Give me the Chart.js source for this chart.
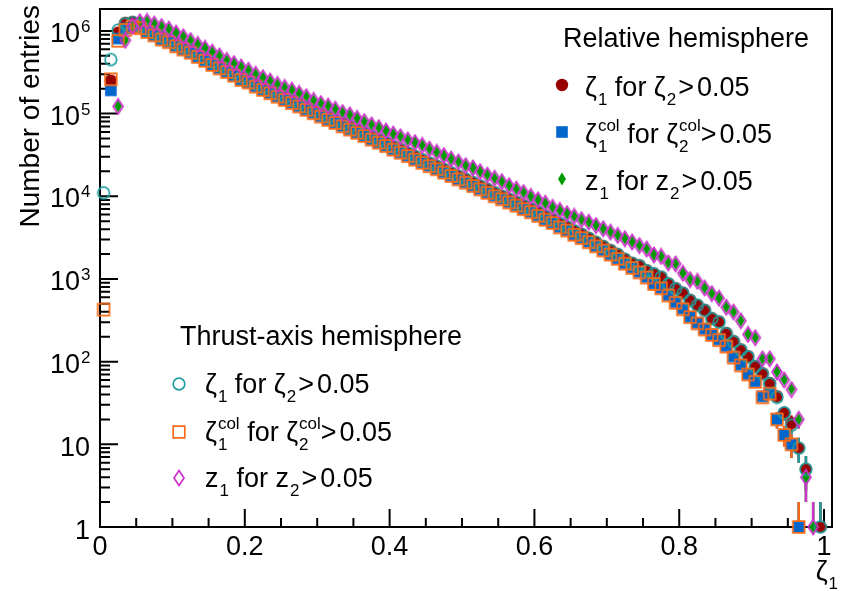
<!DOCTYPE html>
<html>
<head>
<meta charset="utf-8">
<script src="https://cdn.jsdelivr.net/npm/chart.js@4.4.1/dist/chart.umd.min.js"></script>
<style>
html, body { margin: 0; padding: 0; background: #fff; }
</style>
</head>
<body>
<canvas id="c" width="841" height="591"></canvas>
<script>
// bin centres (bin width 0.01)
const binCenters = [
  0.005, 0.015, 0.025, 0.035, 0.045, 0.055, 0.065, 0.075, 0.085, 0.095,
  0.105, 0.115, 0.125, 0.135, 0.145, 0.155, 0.165, 0.175, 0.185, 0.195,
  0.205, 0.215, 0.225, 0.235, 0.245, 0.255, 0.265, 0.275, 0.285, 0.295,
  0.305, 0.315, 0.325, 0.335, 0.345, 0.355, 0.365, 0.375, 0.385, 0.395,
  0.405, 0.415, 0.425, 0.435, 0.445, 0.455, 0.465, 0.475, 0.485, 0.495,
  0.505, 0.515, 0.525, 0.535, 0.545, 0.555, 0.565, 0.575, 0.585, 0.595,
  0.605, 0.615, 0.625, 0.635, 0.645, 0.655, 0.665, 0.675, 0.685, 0.695,
  0.705, 0.715, 0.725, 0.735, 0.745, 0.755, 0.765, 0.775, 0.785, 0.795,
  0.805, 0.815, 0.825, 0.835, 0.845, 0.855, 0.865, 0.875, 0.885, 0.895,
  0.905, 0.915, 0.925, 0.935, 0.945, 0.955, 0.965, 0.975, 0.985, 0.995
];

// Relative hemisphere
const relZeta = [
  null, 2.5e5, 9.5e5, 1.25e6, 1.28e6, 1.17e6, 1.05e6, 9.5e5, 8.5e5, 7.9e5,
  7.1e5, 6.5e5, 5.9e5, 5.3e5, 4.75e5, 4.2e5, 3.85e5, 3.45e5, 3.13e5, 2.78e5,
  2.6e5, 2.31e5, 2.1e5, 1.92e5, 1.75e5, 1.6e5, 1.46e5, 1.33e5, 1.21e5, 1.1e5,
  1.0e5, 9.2e4, 8.4e4, 7.7e4, 7.0e4, 6.4e4, 5.85e4, 5.3e4, 4.85e4, 4.45e4,
  4.0e4, 3.7e4, 3.35e4, 3.05e4, 2.78e4, 2.53e4, 2.32e4, 2.12e4, 1.93e4, 1.76e4,
  1.61e4, 1.47e4, 1.34e4, 1.22e4, 1.11e4, 1.01e4, 9250, 8500, 7750, 7100,
  6450, 5750, 5250, 4700, 4300, 3830, 3500, 3130, 2790, 2490,
  2230, 1990, 1740, 1560, 1460, 1270, 1160, 1060, 880, 770,
  680, 556, 484, 422, 335, 305, 221, 176, 140, 116,
  88, 72, 55, 38, 24, 18, 9, 5, null, 1
];
const relZetaCol = [
  null, 1.91e5, 8.1e5, 1.07e6, 1.17e6, 1.1e6, 9.8e5, 8.9e5, 7.9e5, 7.4e5,
  6.6e5, 6.0e5, 5.5e5, 4.9e5, 4.4e5, 3.9e5, 3.55e5, 3.2e5, 2.9e5, 2.57e5,
  2.4e5, 2.14e5, 1.95e5, 1.78e5, 1.62e5, 1.48e5, 1.35e5, 1.23e5, 1.12e5, 1.02e5,
  9.3e4, 8.5e4, 7.8e4, 7.1e4, 6.5e4, 5.9e4, 5.4e4, 4.9e4, 4.5e4, 4.1e4,
  3.7e4, 3.4e4, 3.1e4, 2.8e4, 2.57e4, 2.34e4, 2.14e4, 1.95e4, 1.78e4, 1.62e4,
  1.48e4, 1.35e4, 1.23e4, 1.12e4, 1.02e4, 9300, 8500, 7800, 7100, 6500,
  5900, 5250, 4800, 4270, 3900, 3470, 3160, 2820, 2510, 2240,
  2000, 1780, 1550, 1380, 1220, 1060, 880, 780, 640, 525,
  440, 350, 295, 250, 214, 186, 155, 115, 92, 71,
  58, 38, 42, 20, 13, 10, 1, null, null, null
];
const relZ = [
  null, null, 1.23e5, 7.8e5, 1.15e6, 1.3e6, 1.3e6, 1.22e6, 1.14e6, 1.06e6,
  9.5e5, 8.6e5, 7.7e5, 6.9e5, 6.2e5, 5.57e5, 5.0e5, 4.43e5, 4.04e5, 3.68e5,
  3.36e5, 3.0e5, 2.72e5, 2.48e5, 2.26e5, 2.08e5, 1.93e5, 1.76e5, 1.61e5, 1.45e5,
  1.33e5, 1.24e5, 1.14e5, 1.04e5, 9.7e4, 8.8e4, 8.05e4, 7.35e4, 6.8e4, 6.2e4,
  5.7e4, 5.3e4, 4.85e4, 4.5e4, 4.15e4, 3.75e4, 3.42e4, 3.12e4, 2.84e4, 2.62e4,
  2.36e4, 2.22e4, 2.0e4, 1.82e4, 1.66e4, 1.51e4, 1.35e4, 1.23e4, 1.12e4, 1.0e4,
  9100, 8300, 7400, 6800, 6200, 5750, 5250, 4900, 4470, 4070,
  3720, 3390, 3090, 2820, 2550, 2320, 1960, 1880, 1570, 1530,
  1180, 985, 940, 780, 670, 590, 460, 400, 314, 215,
  196, 109, 109, 76, 61, 47, 20, 4, 1, null
];

// Thrust-axis hemisphere
const thrZeta = [
  1.1e4, 4.5e5, 1.02e6, 1.22e6, 1.26e6, 1.16e6, 1.04e6, 9.4e5, 8.5e5, 7.8e5,
  7.0e5, 6.4e5, 5.85e5, 5.25e5, 4.7e5, 4.2e5, 3.8e5, 3.42e5, 3.1e5, 2.76e5,
  2.58e5, 2.3e5, 2.08e5, 1.9e5, 1.74e5, 1.59e5, 1.45e5, 1.32e5, 1.2e5, 1.09e5,
  9.9e4, 9.1e4, 8.3e4, 7.6e4, 6.95e4, 6.35e4, 5.8e4, 5.25e4, 4.8e4, 4.4e4,
  3.97e4, 3.66e4, 3.32e4, 3.02e4, 2.75e4, 2.5e4, 2.3e4, 2.1e4, 1.91e4, 1.74e4,
  1.6e4, 1.46e4, 1.33e4, 1.21e4, 1.1e4, 1.0e4, 9150, 8400, 7650, 7000,
  6400, 5700, 5200, 4650, 4250, 3800, 3450, 3100, 2760, 2460,
  2200, 1970, 1720, 1540, 1440, 1250, 1150, 1050, 870, 760,
  670, 550, 480, 415, 330, 300, 218, 174, 138, 114,
  87, 71, 54, 37, 24, 17, 9, 5, null, 1
];
const thrZetaCol = [
  426, 2.6e5, 7.6e5, 1.03e6, 1.13e6, 1.08e6, 9.7e5, 8.8e5, 7.85e5, 7.3e5,
  6.5e5, 5.95e5, 5.45e5, 4.85e5, 4.35e5, 3.87e5, 3.52e5, 3.18e5, 2.88e5, 2.55e5,
  2.38e5, 2.12e5, 1.93e5, 1.76e5, 1.6e5, 1.46e5, 1.34e5, 1.22e5, 1.11e5, 1.01e5,
  9.2e4, 8.4e4, 7.7e4, 7.0e4, 6.4e4, 5.85e4, 5.35e4, 4.85e4, 4.45e4, 4.05e4,
  3.66e4, 3.36e4, 3.06e4, 2.77e4, 2.54e4, 2.31e4, 2.12e4, 1.93e4, 1.76e4, 1.6e4,
  1.46e4, 1.33e4, 1.21e4, 1.1e4, 1.0e4, 9200, 8400, 7700, 7000, 6400,
  5800, 5200, 4750, 4200, 3850, 3420, 3120, 2780, 2480, 2210,
  1970, 1750, 1530, 1360, 1200, 1040, 870, 770, 630, 515,
  430, 345, 290, 245, 210, 182, 152, 112, 90, 70,
  57, 37, 41, 20, 13, 10, 1, null, null, null
];
const thrZ = [
  null, null, 1.22e5, 7.7e5, 1.14e6, 1.29e6, 1.3e6, 1.21e6, 1.13e6, 1.05e6,
  9.4e5, 8.5e5, 7.65e5, 6.85e5, 6.15e5, 5.55e5, 4.98e5, 4.4e5, 4.02e5, 3.66e5,
  3.34e5, 2.99e5, 2.71e5, 2.47e5, 2.25e5, 2.07e5, 1.92e5, 1.75e5, 1.6e5, 1.44e5,
  1.32e5, 1.23e5, 1.13e5, 1.03e5, 9.65e4, 8.75e4, 8.0e4, 7.3e4, 6.75e4, 6.15e4,
  5.65e4, 5.25e4, 4.8e4, 4.46e4, 4.12e4, 3.72e4, 3.4e4, 3.1e4, 2.82e4, 2.6e4,
  2.34e4, 2.2e4, 1.98e4, 1.8e4, 1.65e4, 1.5e4, 1.34e4, 1.22e4, 1.11e4, 9950,
  9050, 8250, 7350, 6750, 6150, 5700, 5200, 4850, 4430, 4040,
  3690, 3360, 3060, 2800, 2530, 2300, 1950, 1870, 1560, 1520,
  1170, 980, 935, 775, 665, 585, 455, 398, 312, 213,
  195, 108, 108, 75, 60, 46, 20, 4, 1, null
];

const xTickValues = [0, 0.2, 0.4, 0.6, 0.8, 1];
const xTickLabels = ['0', '0.2', '0.4', '0.6', '0.8', '1'];
const yDecades = [0, 1, 2, 3, 4, 5, 6];

const FONT = '"Liberation Sans", Arial, Helvetica, sans-serif';
const BIG = 27, SMALL = 17;

// ROOT-like markers drawn on small canvases
function makeMarker(kind, color) {
  const c = document.createElement('canvas');
  c.width = 18; c.height = 18;
  const g = c.getContext('2d');
  const m = 9;
  g.lineWidth = 1.7;
  g.strokeStyle = color;
  g.fillStyle = color;
  g.beginPath();
  if (kind === 'circle') {
    g.arc(m, m, 6.2, 0, Math.PI * 2);
  } else if (kind === 'ocircle') {
    g.arc(m, m, 5.8, 0, Math.PI * 2);
  } else if (kind === 'square') {
    g.rect(m - 5.8, m - 5.8, 11.6, 11.6);
  } else if (kind === 'osquare') {
    g.rect(m - 5.8, m - 5.8, 11.6, 11.6);
  } else if (kind === 'diamond') {
    g.moveTo(m, m - 6.5); g.lineTo(m + 4, m); g.lineTo(m, m + 6.5); g.lineTo(m - 4, m);
    g.closePath();
  } else if (kind === 'odiamond') {
    g.moveTo(m, m - 7.4); g.lineTo(m + 5, m); g.lineTo(m, m + 7.4); g.lineTo(m - 5, m);
    g.closePath();
  }
  if (kind.startsWith('o')) g.stroke(); else g.fill();
  return c;
}

const series = [
  { label: 'rel zeta', values: relZeta, kind: 'circle', color: '#990000', half: 6, order: 6 },
  { label: 'rel zeta col', values: relZetaCol, kind: 'square', color: '#0066cc', half: 6, order: 5 },
  { label: 'rel z', values: relZ, kind: 'diamond', color: '#009900', half: 7, order: 4 },
  { label: 'thrust zeta', values: thrZeta, kind: 'ocircle', color: '#1f9e9e', half: 6, order: 3 },
  { label: 'thrust zeta col', values: thrZetaCol, kind: 'osquare', color: '#fb6a14', half: 6, order: 2 },
  { label: 'thrust z', values: thrZ, kind: 'odiamond', color: '#cc33cc', half: 7, order: 1 }
];
series.forEach(s => { s.marker = makeMarker(s.kind, s.color); });

function richText(ctx, x, y, parts) {
  parts.forEach(p => {
    if (typeof p === 'number') { x += p; return; }
    const [txt, sub, sup] = p;
    ctx.font = BIG + 'px ' + FONT;
    ctx.fillText(txt, x, y);
    x += ctx.measureText(txt).width;
    ctx.font = SMALL + 'px ' + FONT;
    let w = 0;
    if (sub) { ctx.fillText(sub, x + 1, y + 9); w = ctx.measureText(sub).width + 1; }
    if (sup) { ctx.fillText(sup, x + 1, y - 12); w = Math.max(w, ctx.measureText(sup).width + 1); }
    x += w;
  });
}

const rowZeta = [['ζ', '1'], [' for ζ', '2'], 2, ['>'], 3, ['0.05']];
const rowCol = [['ζ', '1', 'col'], [' for ζ', '2', 'col'], ['>'], 3, ['0.05']];
const rowZ = [['z', '1'], [' for z', '2'], 2, ['>'], 3, ['0.05']];

// axes, ticks, frame and error bars (under the markers)
const axesPlugin = {
  id: 'rootAxes',
  beforeDatasetsDraw(chart) {
    const ctx = chart.ctx;
    const a = chart.chartArea;
    const xs = chart.scales.x, ys = chart.scales.y;
    ctx.save();
    ctx.strokeStyle = '#000';
    ctx.lineWidth = 2;
    ctx.beginPath();
    // x ticks
    for (let k = 0; k <= 20; k++) {
      const v = k * 0.05;
      const px = xs.getPixelForValue(v);
      const len = (k % 4 === 0) ? 18 : 9;
      ctx.moveTo(px, a.bottom); ctx.lineTo(px, a.bottom - len);
    }
    // y ticks
    yDecades.forEach(d => {
      const p = ys.getPixelForValue(Math.pow(10, d));
      ctx.moveTo(a.left, p); ctx.lineTo(a.left + 18, p);
      for (let m = 2; m <= 9; m++) {
        const v = m * Math.pow(10, d);
        if (v > ys.max) break;
        const q = ys.getPixelForValue(v);
        ctx.moveTo(a.left, q); ctx.lineTo(a.left + 10, q);
      }
    });
    ctx.stroke();
    ctx.strokeRect(a.left, a.top, a.right - a.left, a.bottom - a.top);

    // error bars sqrt(N)
    ctx.lineWidth = 2.5;
    chart.data.datasets.forEach((ds, i) => {
      const meta = chart.getDatasetMeta(i);
      const s = series[i];
      ctx.strokeStyle = s.color;
      ctx.beginPath();
      meta.data.forEach((pt, j) => {
        const v = ds.data[j].y;
        const e = Math.sqrt(v);
        const yTop = ys.getPixelForValue(v + e);
        const yBot = v - e > 0 ? Math.min(ys.getPixelForValue(v - e), a.bottom) : a.bottom;
        if (pt.y - s.half > yTop) { ctx.moveTo(pt.x, yTop); ctx.lineTo(pt.x, pt.y - s.half); }
        if (yBot > pt.y + s.half) { ctx.moveTo(pt.x, pt.y + s.half); ctx.lineTo(pt.x, yBot); }
      });
      ctx.stroke();
    });
    ctx.restore();
  },
  afterDraw(chart) {
    const ctx = chart.ctx;
    const xs = chart.scales.x, ys = chart.scales.y;
    ctx.save();
    ctx.fillStyle = '#000';
    ctx.textBaseline = 'alphabetic';

    // x tick labels
    ctx.font = BIG + 'px ' + FONT;
    ctx.textAlign = 'center';
    xTickValues.forEach((v, i) => {
      ctx.fillText(xTickLabels[i], xs.getPixelForValue(v), 555);
    });

    // y tick labels
    yDecades.forEach(d => {
      const p = ys.getPixelForValue(Math.pow(10, d));
      ctx.font = BIG + 'px ' + FONT;
      ctx.textAlign = 'right';
      if (d === 0) { ctx.fillText('1', 90, p + 12); return; }
      if (d === 1) { ctx.fillText('10', 90, p + 12); return; }
      ctx.fillText('10', 80, p + 11);
      ctx.font = SMALL + 'px ' + FONT;
      ctx.textAlign = 'left';
      ctx.fillText(String(d), 81, p + 1);
    });

    // axis titles
    ctx.save();
    ctx.translate(39, 5);
    ctx.rotate(-Math.PI / 2);
    ctx.font = '28px ' + FONT;
    ctx.textAlign = 'right';
    ctx.fillText('Number of entries', 0, 0);
    ctx.restore();

    ctx.textAlign = 'left';
    ctx.font = BIG + 'px ' + FONT;
    const zw = ctx.measureText('ζ').width;
    ctx.font = SMALL + 'px ' + FONT;
    const ow = ctx.measureText('1').width;
    richText(ctx, 838 - zw - ow - 1, 580, [['ζ', '1']]);

    // legends
    ctx.font = BIG + 'px ' + FONT;
    ctx.fillText('Relative hemisphere', 563, 47);
    const relRows = [[rowZeta, 96], [rowCol, 143], [rowZ, 190]];
    relRows.forEach((r, i) => {
      const m = series[i].marker;
      ctx.drawImage(m, 562 - 9, r[1] - 11 - 9);
      richText(ctx, 585, r[1], r[0]);
    });
    ctx.font = BIG + 'px ' + FONT;
    ctx.fillText('Thrust-axis hemisphere', 180, 345);
    const thrRows = [[rowZeta, 393], [rowCol, 441], [rowZ, 487]];
    thrRows.forEach((r, i) => {
      const m = series[i + 3].marker;
      ctx.drawImage(m, 179 - 9, r[1] - 9 - 9);
      richText(ctx, 205, r[1], r[0]);
    });
    ctx.restore();
  }
};

const datasets = series.map(s => ({
  label: s.label,
  data: binCenters
    .map((x, i) => ({ x: x, y: s.values[i] }))
    .filter(p => p.y !== null),
  pointStyle: s.marker,
  pointRadius: 8,
  showLine: false,
  clip: false,
  order: s.order
}));

new Chart(document.getElementById('c'), {
  type: 'scatter',
  data: { datasets: datasets },
  options: {
    responsive: false,
    animation: false,
    events: [],
    layout: { padding: { left: 100, right: 4, top: 5, bottom: 64 } },
    scales: {
      x: { type: 'linear', min: 0, max: 1.011, display: false },
      y: { type: 'logarithmic', min: 1, max: 1.84e6, display: false }
    },
    plugins: {
      legend: { display: false },
      tooltip: { enabled: false }
    }
  },
  plugins: [axesPlugin]
});
</script>
</body>
</html>
